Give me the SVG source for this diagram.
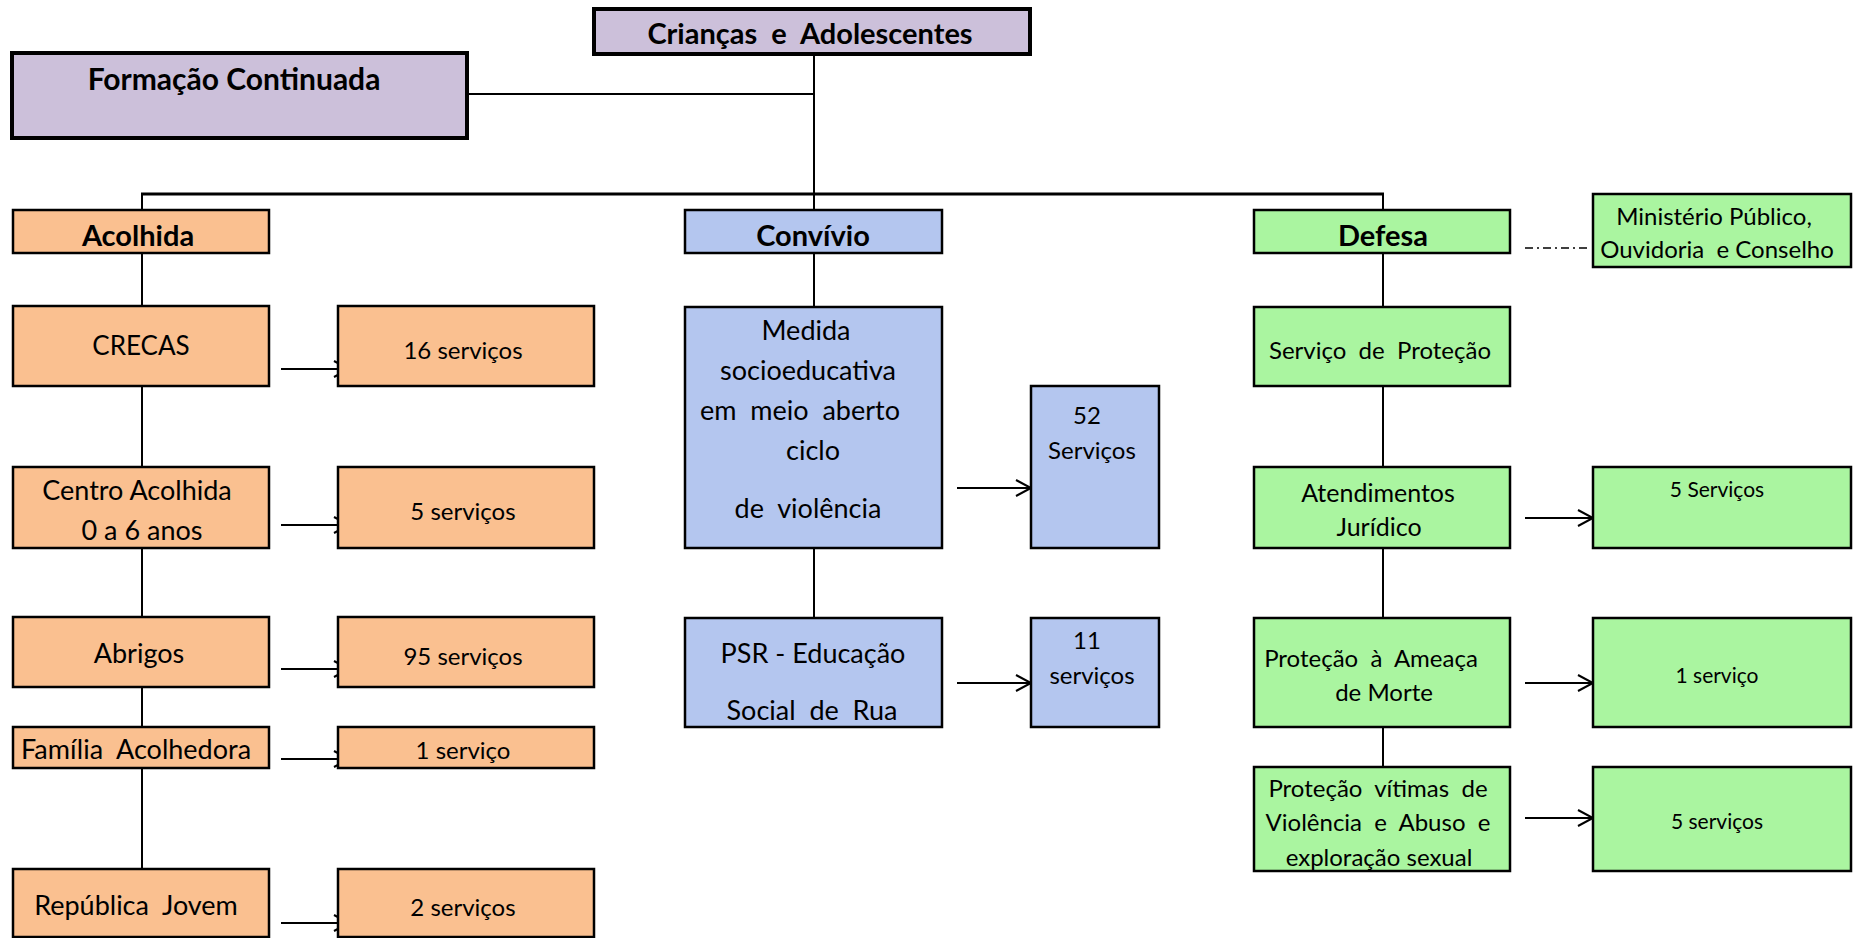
<svg xmlns="http://www.w3.org/2000/svg" width="1853" height="938" viewBox="0 0 1853 938" xml:space="preserve">
<defs>
<marker id="arr" markerUnits="userSpaceOnUse" markerWidth="20" markerHeight="20" refX="17" refY="10" orient="auto" viewBox="0 0 20 20">
<path d="M2,2 L17,10 L2,18" fill="none" stroke="#000" stroke-width="2"/>
</marker>
</defs>
<style>
rect{stroke:#000;stroke-width:2.5}
.thick{stroke-width:4}
.lav{fill:#ccc0da}
.org{fill:#fac090}
.blu{fill:#b4c6ef}
.grn{fill:#aaf5a0}
text{font-family:Lato,"Liberation Sans",sans-serif;font-size:24px;fill:#000;text-anchor:middle;dominant-baseline:central;white-space:pre}
.b{font-weight:bold;font-size:29px}
.s{font-size:21px}
.m{font-size:27px}
#connectors line{stroke:#000;stroke-width:2;fill:none}
#connectors .arrow{marker-end:url(#arr)}
</style>
<rect x="0" y="0" width="1853" height="938" fill="#fff" style="stroke:none"/>
<g id="connectors">
<line x1="467" y1="94" x2="814" y2="94"/>
<line x1="814" y1="54" x2="814" y2="210"/>
<line x1="141" y1="194" x2="1384" y2="194" style="stroke-width:3"/>
<line x1="142" y1="194" x2="142" y2="210"/>
<line x1="1383" y1="194" x2="1383" y2="210"/>
<line x1="142" y1="253" x2="142" y2="869"/>
<line x1="814" y1="253" x2="814" y2="307"/>
<line x1="814" y1="548" x2="814" y2="618"/>
<line x1="1383" y1="253" x2="1383" y2="767"/>
<line x1="1525" y1="248" x2="1591" y2="248" style="stroke-dasharray:8 4 2 4;stroke-width:1.5"/>
<line class="arrow" x1="281" y1="369" x2="349" y2="369"/>
<line class="arrow" x1="281" y1="525" x2="349" y2="525"/>
<line class="arrow" x1="281" y1="669" x2="349" y2="669"/>
<line class="arrow" x1="281" y1="759" x2="349" y2="759"/>
<line class="arrow" x1="281" y1="923" x2="349" y2="923"/>
<line class="arrow" x1="957" y1="488" x2="1031" y2="488"/>
<line class="arrow" x1="957" y1="683" x2="1031" y2="683"/>
<line class="arrow" x1="1525" y1="518" x2="1593" y2="518"/>
<line class="arrow" x1="1525" y1="683" x2="1593" y2="683"/>
<line class="arrow" x1="1525" y1="818" x2="1593" y2="818"/>
</g>
<g id="criancas"><rect class="lav thick" x="594" y="9" width="436" height="45"/><text class="b" x="810" y="32">Crianças  e  Adolescentes</text></g>
<g id="formacao"><rect class="lav thick" x="12" y="53" width="455" height="85"/><text class="b" x="234" y="78" style="font-size:30px">Formação Continuada</text></g>
<g id="acolhida"><rect class="org" x="13" y="210" width="256" height="43"/><text class="b" x="138" y="234">Acolhida</text></g>
<g id="convivio"><rect class="blu" x="685" y="210" width="257" height="43"/><text class="b" x="813" y="234">Convívio</text></g>
<g id="defesa"><rect class="grn" x="1254" y="210" width="256" height="43"/><text class="b" x="1383" y="234">Defesa</text></g>
<g id="ministerio"><rect class="grn" x="1593" y="194" width="258" height="73"/><text x="1714" y="215">Ministério Público,</text><text x="1717" y="248">Ouvidoria  e Conselho</text></g>
<g id="crecas"><rect class="org" x="13" y="306" width="256" height="80"/><text x="141" y="345" style="font-size:26px">CRECAS</text></g>
<g id="crecas-s"><rect class="org" x="338" y="306" width="256" height="80"/><text x="463" y="349">16 serviços</text></g>
<g id="centro"><rect class="org" x="13" y="467" width="256" height="81"/><text class="m" x="137" y="489">Centro Acolhida</text><text class="m" x="142" y="529">0 a 6 anos</text></g>
<g id="centro-s"><rect class="org" x="338" y="467" width="256" height="81"/><text x="463" y="510">5 serviços</text></g>
<g id="abrigos"><rect class="org" x="13" y="617" width="256" height="70"/><text class="m" x="139" y="652">Abrigos</text></g>
<g id="abrigos-s"><rect class="org" x="338" y="617" width="256" height="70"/><text x="463" y="655">95 serviços</text></g>
<g id="familia"><rect class="org" x="13" y="727" width="256" height="41"/><text class="m" x="136" y="748">Família  Acolhedora</text></g>
<g id="familia-s"><rect class="org" x="338" y="727" width="256" height="41"/><text x="463" y="749">1 serviço</text></g>
<g id="republica"><rect class="org" x="13" y="869" width="256" height="68"/><text class="m" x="136" y="904">República  Jovem</text></g>
<g id="republica-s"><rect class="org" x="338" y="869" width="256" height="68"/><text x="463" y="906">2 serviços</text></g>
<g id="medida"><rect class="blu" x="685" y="307" width="257" height="241"/><text class="m" x="806" y="329">Medida</text><text class="m" x="808" y="369">socioeducativa</text><text class="m" x="800" y="409">em  meio  aberto</text><text class="m" x="813" y="449">ciclo</text><text class="m" x="808" y="507">de  violência</text></g>
<g id="medida-s"><rect class="blu" x="1031" y="386" width="128" height="162"/><text x="1087" y="414">52</text><text x="1092" y="449">Serviços</text></g>
<g id="psr"><rect class="blu" x="685" y="618" width="257" height="109"/><text class="m" x="813" y="652">PSR - Educação</text><text class="m" x="812" y="709">Social  de  Rua</text></g>
<g id="psr-s"><rect class="blu" x="1031" y="618" width="128" height="109"/><text x="1087" y="639">11</text><text x="1092" y="674">serviços</text></g>
<g id="servico"><rect class="grn" x="1254" y="307" width="256" height="79"/><text x="1380" y="349">Serviço  de  Proteção</text></g>
<g id="atendimentos"><rect class="grn" x="1254" y="467" width="256" height="81"/><text x="1378" y="492" style="font-size:25px">Atendimentos</text><text x="1379" y="526" style="font-size:25px">Jurídico</text></g>
<g id="atendimentos-s"><rect class="grn" x="1593" y="467" width="258" height="81"/><text class="s" x="1717" y="488">5 Serviços</text></g>
<g id="ameaca"><rect class="grn" x="1254" y="618" width="256" height="109"/><text x="1371" y="657">Proteção  à  Ameaça</text><text x="1384" y="691">de Morte</text></g>
<g id="ameaca-s"><rect class="grn" x="1593" y="618" width="258" height="109"/><text class="s" x="1717" y="674">1 serviço</text></g>
<g id="vitimas"><rect class="grn" x="1254" y="767" width="256" height="104"/><text x="1378" y="787">Proteção  vítimas  de</text><text x="1378" y="821">Violência  e  Abuso  e</text><text x="1379" y="856">exploração sexual</text></g>
<g id="vitimas-s"><rect class="grn" x="1593" y="767" width="258" height="104"/><text class="s" x="1717" y="820">5 serviços</text></g>
</svg>
